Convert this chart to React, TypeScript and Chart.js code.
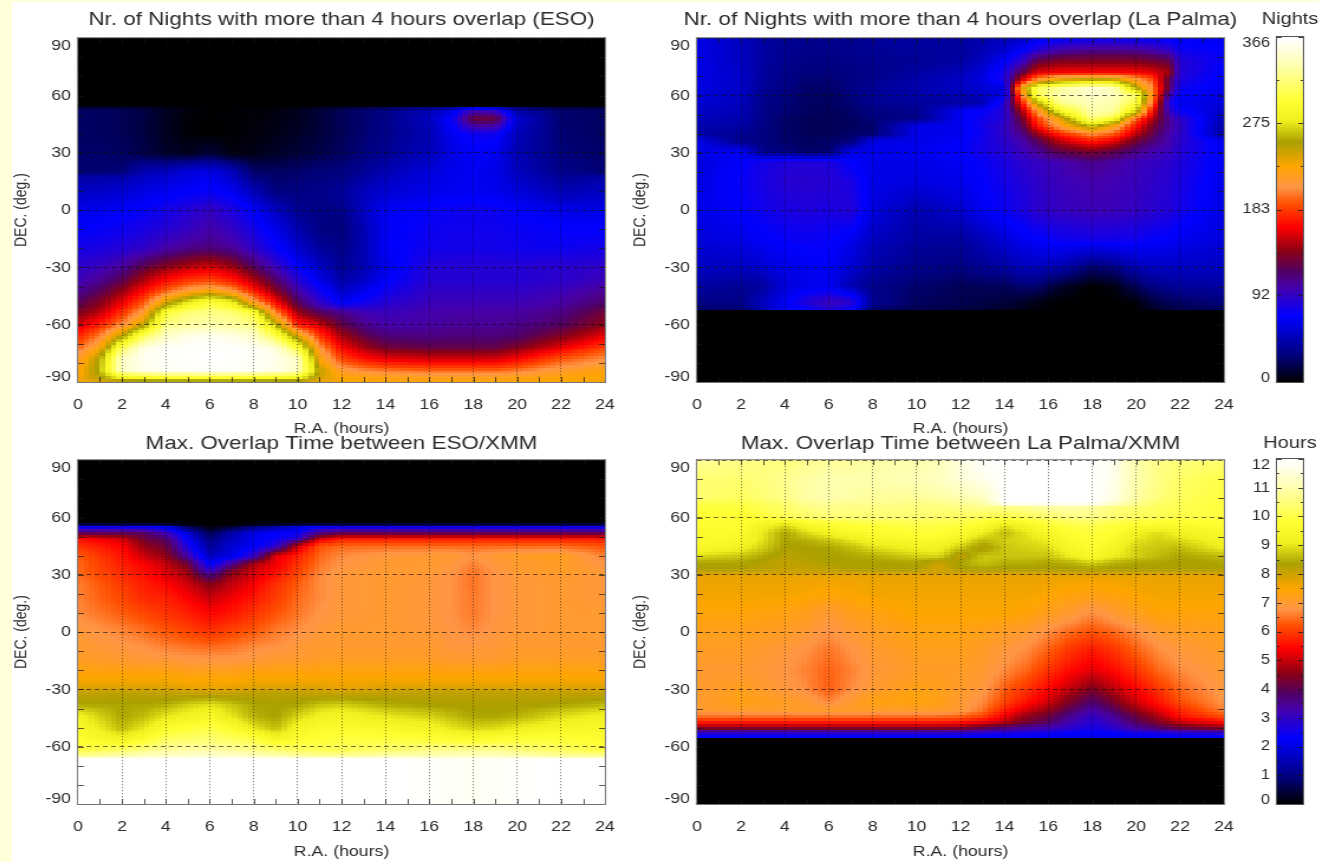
import React, { useEffect, useRef } from "react";
import { Chart, registerables } from "chart.js";

Chart.register(...registerables);

// ---------- colour table (fraction of the colour bar, r, g, b)
const tablePos = [0, 0.08, 0.19, 0.275, 0.32, 0.38, 0.45, 0.517, 0.565, 0.623, 0.696, 0.758, 0.816, 0.913, 0.99, 1];
const tableR = [0, 0, 0, 70, 80, 140, 255, 255, 255, 255, 170, 240, 255, 255, 255, 255];
const tableG = [0, 0, 0, 0, 0, 0, 0, 80, 150, 165, 160, 240, 255, 255, 255, 255];
const tableB = [0, 128, 255, 170, 100, 20, 0, 0, 70, 0, 0, 30, 50, 170, 250, 255];

// ---------- Nights, ESO
const esoNightsRa = [0,1,2,3,4,5,6,7,8,9,10,11,12,13,14,16,17,18,19,20,22,24];
const esoNightsDec = [90,54,53,48,40,30,20,18,10,0,-10,-20,-30,-36,-42,-48,-54,-60,-66,-72,-78,-84,-88,-90];
const esoNights = [
[0,0,0,0,0,0,0,0,0,0,0,0,0,0,0,0,0,0,0,0,0,0],
[0,0,0,0,0,0,0,0,0,0,0,0,0,0,0,0,0,0,0,0,0,0],
[22,22,20,16,8,3,1,1,2,3,7,13,20,25,30,45,55,90,80,38,24,22],
[22,22,20,15,7,2,0,1,2,4,7,13,20,25,32,50,72,130,130,55,25,22],
[22,22,20,15,7,2,0,1,3,5,9,13,20,26,32,45,65,75,75,48,26,22],
[24,24,22,16,10,6,14,3,5,9,13,17,22,28,35,48,60,68,65,45,28,24],
[26,26,28,45,50,58,62,50,25,22,25,28,30,36,45,58,64,66,62,50,32,26],
[40,40,42,50,54,60,64,52,28,24,26,28,30,38,48,60,64,66,63,52,35,40],
[50,52,55,60,65,68,72,65,48,28,30,32,38,48,55,62,65,66,64,58,45,50],
[62,65,68,72,78,85,92,82,68,50,35,30,32,50,66,72,74,75,74,70,62,62],
[70,72,75,80,85,92,100,92,78,62,45,30,28,45,66,74,76,76,76,74,70,70],
[78,80,84,90,100,108,112,105,90,72,55,38,32,45,68,76,78,78,78,76,75,78],
[90,95,105,125,140,150,158,145,120,95,72,52,35,45,62,85,86,86,86,86,88,90],
[95,105,120,145,165,178,182,170,145,115,85,62,42,50,68,85,85,85,85,85,88,95],
[105,118,140,165,190,210,222,205,170,135,100,75,52,62,75,90,90,90,90,90,95,105],
[120,135,160,190,240,275,300,280,215,165,120,90,65,75,85,95,96,96,96,96,102,115],
[135,150,180,215,300,320,325,320,300,205,145,120,110,98,95,100,102,102,103,103,110,130],
[155,175,205,250,325,330,335,330,325,262,175,155,125,108,100,102,105,105,105,108,118,140],
[175,200,250,310,345,355,358,355,345,305,240,180,145,125,112,110,112,112,112,115,135,160],
[195,225,310,355,362,364,365,364,362,352,300,210,165,145,130,125,125,125,125,135,160,185],
[215,255,345,360,362,364,365,364,362,358,345,228,185,170,160,155,155,155,155,165,190,205],
[225,260,345,355,360,362,362,362,360,355,345,250,215,205,200,195,195,195,195,200,215,225],
[230,250,280,290,295,295,295,295,295,290,285,240,228,225,222,220,220,220,220,222,225,230],
[232,235,235,235,235,235,235,235,235,235,235,232,230,230,228,228,228,228,228,228,230,232],
];

// ---------- Nights, La Palma
const lpNightsRa = [0,2,3,4,5,6,7,8,10,12,13,14,14.8,15.5,16.5,18,19,20,20.7,21.5,22,24];
const lpNightsDec = [90,84,78,72,68,64,60,56,52,48,44,40,36,31,25,15,0,-15,-30,-40,-48,-52,-53,-90];
const lpNights = [
[62,50,40,36,34,34,34,38,40,40,45,48,52,60,68,72,72,70,68,65,65,66],
[62,50,40,35,32,32,34,36,38,38,45,55,68,85,100,108,108,105,100,90,75,70],
[62,50,40,34,30,30,32,34,36,40,50,68,90,125,135,135,135,135,130,125,85,72],
[62,52,38,32,28,28,30,32,40,48,58,80,125,160,165,165,165,165,160,145,85,68],
[62,52,38,32,26,26,30,34,42,50,60,80,155,210,240,255,250,215,190,120,82,66],
[60,52,36,30,24,24,30,36,44,50,55,60,230,310,330,350,340,255,205,120,75,64],
[58,50,34,28,24,22,28,36,42,46,50,62,200,310,335,345,340,320,215,95,70,60],
[55,48,32,28,22,22,26,34,38,40,45,85,170,255,325,340,335,300,200,80,65,58],
[52,46,32,26,22,20,24,30,34,66,72,85,145,210,285,335,330,270,170,92,72,52],
[48,44,32,24,20,20,22,28,30,66,75,85,130,185,235,325,300,195,150,105,88,46],
[44,42,30,24,20,20,20,25,62,65,78,90,120,170,215,265,225,170,135,105,92,40],
[42,35,30,24,20,20,24,26,62,65,75,90,108,140,175,205,190,150,125,100,90,38],
[62,32,30,24,22,24,26,62,62,68,78,88,100,120,150,175,160,130,115,100,88,62],
[62,65,32,28,22,24,62,64,65,70,78,85,95,105,125,135,125,110,100,95,85,66],
[58,70,78,82,84,82,70,62,62,66,72,80,88,92,98,108,102,95,92,88,82,65],
[60,72,80,86,88,86,80,62,60,64,70,78,84,90,95,100,98,94,90,86,80,62],
[62,70,76,80,82,80,85,60,45,55,66,74,80,88,92,96,95,92,88,84,78,60],
[58,62,68,72,74,72,65,50,40,38,48,58,65,70,75,78,78,76,72,68,65,58],
[50,50,55,62,66,68,55,42,32,30,35,40,48,48,45,25,30,45,50,50,50,50],
[40,35,38,58,62,65,45,32,25,20,20,20,25,25,10,0,4,20,30,35,38,40],
[30,32,50,65,85,95,90,35,22,18,16,14,10,5,0,0,0,2,14,20,22,28],
[25,26,45,65,70,85,72,25,18,15,12,10,6,2,0,0,0,0,8,14,18,22],
[0,0,0,0,0,0,0,0,0,0,0,0,0,0,0,0,0,0,0,0,0,0],
[0,0,0,0,0,0,0,0,0,0,0,0,0,0,0,0,0,0,0,0,0,0],
];

// ---------- Hours, ESO
const esoHoursRa = [0,2,3,4,5,6,7,8,9,10,11,12,14,16,17,18,19,20,22,24];
const esoHoursDec = [90,56.5,55.5,52,49,45,40,35,32,28,24,18,10,2,-6,-14,-22,-29,-32,-38,-44,-50,-56,-62,-65,-66,-90];
const esoHours = [
[0,0,0,0,0,0,0,0,0,0,0,0,0,0,0,0,0,0,0,0],
[0,0,0,0,0,0,0,0,0,0,0,0,0,0,0,0,0,0,0,0],
[2.2,2.2,2.2,2,0.5,0,0.2,0.8,1.2,1.8,2.2,2.2,2.2,2.2,2.2,2.2,2.2,2.2,2.2,2.2],
[3.9,4,3.9,3.2,1.8,0.6,1.4,2,2.3,2.4,3.6,4,4,4,4,4,4,4,4,4],
[5.5,5,4.2,3.8,2.2,0.9,1.6,2.1,2.4,2.8,5,5.6,5.6,5.6,5.6,5.6,5.6,5.6,5.6,5.6],
[5.9,5.4,4.6,4.2,2.6,1.2,1.8,2.2,2.8,5,6.2,6.4,6.4,6.4,6.4,6.4,6.4,6.4,6.4,6.2],
[6.3,5.6,5,4.6,3.3,1.6,2,3,5.2,5.7,6.4,6.7,6.9,7,7,6.8,7,7.1,7.2,6.6],
[6.4,5.7,5.4,5,4.3,2.3,3.6,4.9,5.3,5.9,6.5,6.8,7,7,6.9,6.6,6.9,7,7.1,6.8],
[6.4,5.8,5.5,5.1,4.6,3,4.4,5,5.5,6,6.6,6.9,7,7,6.8,6.5,6.8,7,7.1,6.9],
[6.5,5.9,5.6,5.3,4.9,4,4.8,5.2,5.7,6.2,6.7,6.9,7,6.9,6.75,6.5,6.8,6.9,7,6.9],
[6.6,6,5.7,5.5,5.1,4.6,5,5.4,5.9,6.3,6.7,6.9,7,6.9,6.75,6.5,6.8,6.9,7,6.9],
[6.6,6.1,5.8,5.7,5.4,5,5.3,5.6,6,6.4,6.7,6.9,7,6.9,6.75,6.55,6.8,6.9,7,6.9],
[6.7,6.3,6.1,5.9,5.7,5.4,5.6,5.9,6.2,6.5,6.8,6.9,7,6.9,6.75,6.55,6.8,6.9,7,7],
[6.9,6.6,6.4,6.2,6,5.8,6,6.2,6.5,6.7,6.9,7,7,6.9,6.8,6.65,6.85,6.9,7,7],
[7,6.8,6.7,6.5,6.4,6.3,6.4,6.6,6.7,6.9,7,7,7,7,6.85,6.85,6.9,7,7,7],
[7.1,7,6.9,6.9,6.8,6.8,6.8,6.9,7,7,7.1,7.1,7.1,7.1,7,7,7,7.1,7.1,7.1],
[7.4,7.4,7.4,7.4,7.3,7.3,7.3,7.4,7.4,7.4,7.4,7.4,7.4,7.4,7.4,7.4,7.4,7.4,7.4,7.4],
[7.8,7.8,7.8,7.8,7.7,7.7,7.7,7.8,7.8,7.8,7.8,7.7,7.8,7.8,7.8,7.8,7.8,7.8,7.8,7.8],
[8.1,8.15,8.15,8.1,8.05,8,8.05,8.15,8.2,8.15,8.05,8,8.1,8.15,8.15,8.15,8.15,8.15,8.1,8.1],
[8.45,8.4,8.4,8.5,8.8,9,8.7,8.4,8.35,8.4,8.7,8.8,8.5,8.35,8.3,8.3,8.3,8.3,8.4,8.6],
[9.2,8.4,8.6,9,9.2,9.4,9,8.5,8.35,8.8,9.2,9.3,9,8.8,8.6,8.4,8.4,8.5,8.9,9.2],
[9.5,8.6,9,9.6,9.8,10,9.6,9,8.6,9.3,9.6,9.6,9.5,9.3,9,8.8,8.9,9.1,9.4,9.5],
[9.7,9.2,9.6,10.2,10.3,10.4,10.2,10,9.3,9.7,9.8,9.9,9.9,9.8,9.7,9.6,9.7,9.8,9.8,9.7],
[10,10.4,10.7,10.9,11,11,10.9,10.7,10.5,10.3,10.2,10.2,10.4,10.7,10.8,10.8,10.8,10.6,10.3,10],
[10.6,10.9,11.1,11.2,11.3,11.3,11.3,11.1,11,10.8,10.7,10.7,10.9,11,11.1,11.1,11.1,11,10.7,10.6],
[12,12,12,12,12,12,12,12,12,12,12,12,12,11.9,11.85,11.8,11.85,11.9,12,12],
[12,12,12,12,12,12,12,12,12,12,12,12,12,11.9,11.85,11.8,11.85,11.9,12,12],
];

// ---------- Hours, La Palma
const lpHoursRa = [0,2,4,5,6,7,8,10,11,12,13,14,15,16,17,18,19,20,21,22,24];
const lpHoursDec = [90,80,70,67,66,60,56,52,48,44,40,36,33,30.5,30,20,10,0,-10,-20,-30,-36,-41,-44,-47,-50,-52,-54,-55.5,-56,-90];
const lpHours = [
[10.8,10.6,10.5,10.7,10.8,10.8,10.9,11,11.1,11.6,11.9,11.95,11.95,11.95,11.95,11.95,11.7,11,10.6,10.5,10.4],
[10.4,10.4,10.7,10.9,11,11,11,11.1,11.2,11.5,11.7,11.95,11.95,11.95,11.95,11.95,11.7,11,10.6,10.3,10],
[10.4,10.2,10.6,10.9,11,10.9,10.8,10.8,10.9,11,11.2,11.95,11.95,11.95,11.95,11.95,11.6,10.9,10.5,10.2,9.9],
[10,10,10.4,10.7,10.8,10.7,10.7,10.6,10.6,10.7,10.9,11.9,11.9,11.9,11.9,11.9,11.4,10.7,10.3,10.1,9.9],
[9.9,9.9,10.3,10.6,10.7,10.6,10.6,10.5,10.5,10.6,10.7,10.6,10.8,11,11,10.9,10.5,10.4,10.2,10.1,9.9],
[9.8,9.7,10.1,10.3,10.4,10.4,10.4,10.4,10.3,10.2,10.1,10,10.1,10.3,10.5,10.6,10.4,10.2,10.1,10,9.9],
[9.7,9.7,8.9,9.4,9.7,9.8,9.9,10,10,9.9,9.7,9,9.4,9.8,10,10.1,9.9,9.7,9.6,9.6,9.7],
[9.6,9.6,8.4,8.9,9.2,9.5,9.6,9.8,9.8,9.6,9.1,8.6,9,9.4,9.7,9.9,9.7,9.2,8.9,9.2,9.5],
[9.6,9.5,8.4,8.5,8.7,9,9.3,9.5,9.5,9.2,8.6,8.8,8.9,9.1,9.6,9.8,9.5,9,8.8,8.9,9.3],
[9.5,9.2,8.3,8.35,8.4,8.6,8.9,9.2,9.2,8.7,8.2,8.7,8.8,8.9,9.4,9.7,9.3,8.8,8.7,8.6,9.1],
[8.9,8.7,8.2,8.3,8.35,8.4,8.5,8.8,8.9,8.1,8.7,8.7,8.7,8.7,9.1,9.5,9.1,8.8,8.6,8.4,8.6],
[8.4,8.4,8.1,8.2,8.3,8.35,8.35,8.4,8,8.4,8.7,8.5,8.5,8.4,8.5,8.8,8.5,8.4,8.4,8.3,8.4],
[8.3,8.3,8.1,8.1,8.2,8.3,8.3,8.3,7.9,8.3,8.35,8.3,8.3,8.3,8.3,8.35,8.3,8.3,8.3,8.3,8.3],
[7.9,7.9,7.9,7.9,7.9,7.9,7.9,7.9,7.9,7.9,7.9,7.9,7.9,7.9,7.9,7.9,7.9,7.9,7.9,7.9,7.9],
[7.7,7.7,7.7,7.7,7.7,7.7,7.7,7.7,7.7,7.7,7.7,7.7,7.7,7.7,7.7,7.7,7.7,7.7,7.7,7.7,7.7],
[7.6,7.6,7.6,7.5,7.45,7.5,7.6,7.6,7.6,7.6,7.6,7.6,7.6,7.5,7.4,7.3,7.4,7.5,7.6,7.6,7.6],
[7.4,7.4,7.3,7.2,6.95,7.2,7.3,7.5,7.5,7.5,7.5,7.5,7.4,7.2,7,6.7,7,7.2,7.4,7.4,7.4],
[7.2,7.2,7.1,6.95,6.75,6.95,7.1,7.3,7.3,7.3,7.2,7.1,7,6.7,6.4,6.2,6.4,6.7,7,7.1,7.2],
[7.1,7.1,6.9,6.75,6.5,6.75,7,7.2,7.2,7.2,7.1,6.9,6.7,6.3,5.9,5.6,5.9,6.3,6.7,6.9,7.1],
[7,7,6.8,6.6,6.35,6.6,6.9,7.1,7.1,7.1,7,6.7,6.4,5.9,5.5,5.2,5.5,5.9,6.4,6.7,7],
[7,7.2,6.9,6.7,6.3,6.7,7,7.3,7.2,7.1,6.9,6.3,5.9,5.4,4.9,4.4,4.9,5.4,5.9,6.4,6.9],
[7,7.3,7.1,7,6.6,7,7.3,7.4,7.3,7,6.7,6.1,5.6,5.1,4.4,3.8,4.4,5.1,5.6,6.2,6.8],
[7,7.1,7.1,7.1,7.1,7.1,7.1,7.1,7.1,7,6.5,5.7,5.1,4.6,3.9,3.3,3.9,4.6,5.2,5.8,6.6],
[6.5,6.5,6.5,6.5,6.5,6.5,6.5,6.5,6.5,6.4,6.1,5.3,4.6,4.2,3.5,3,3.5,4.2,4.8,5.6,6.2],
[5.7,5.7,5.7,5.7,5.7,5.7,5.7,5.7,5.7,5.6,5.3,4.9,4.3,3.9,3.2,2.8,3.2,3.9,4.4,5,5.5],
[4.5,4.5,4.5,4.5,4.5,4.5,4.5,4.5,4.5,4.4,4.1,3.7,3.4,3.2,2.9,2.6,2.9,3.4,3.8,4.2,4.5],
[3.4,3.4,3.4,3.4,3.4,3.4,3.4,3.4,3.4,3.4,3.2,3,2.8,2.7,2.5,2.3,2.5,2.8,3,3.2,3.4],
[2.5,2.5,2.5,2.5,2.5,2.5,2.5,2.5,2.5,2.5,2.4,2.4,2.4,2.3,2.2,2.1,2.2,2.3,2.4,2.4,2.5],
[2.1,2.1,2.1,2.1,2.1,2.1,2.1,2.1,2.1,2.1,2.1,2.1,2.1,2.1,2.1,2.1,2.1,2.1,2.1,2.1,2.1],
[0,0,0,0,0,0,0,0,0,0,0,0,0,0,0,0,0,0,0,0,0],
[0,0,0,0,0,0,0,0,0,0,0,0,0,0,0,0,0,0,0,0,0],
];

// ---------- axes
const minorRa = [1,3,5,7,9,11,13,15,17,19,21,23];
const minorDec = [80,70,50,40,20,10,-10,-20,-40,-50,-70,-80];
const nightsTicks = [0,92,183,275,366];
const nightsMinor = [46,137,229,320];
const hoursTicks = [0,1,2,3,4,5,6,7,8,9,10,11,12];
const hoursMinor = [0.5,1.5,2.5,3.5,4.5,5.5,6.5,7.5,8.5,9.5,10.5,11.5];

const FONT = "'Liberation Sans', Arial, sans-serif";
const INK = "#2b2b2b";

// The canvases are drawn narrow and widened by CSS: the original picture is stretched sideways.
const PANEL_CSS_W = 659;
const PANEL_W = 558;
const PANEL_SX = PANEL_CSS_W / PANEL_W;
const BAR_CSS_W = 120;
const BAR_W = 102;
const BAR_SX = BAR_CSS_W / BAR_W;

function colourOf(f: number): string {
  if (Number.isNaN(f)) return "#ff00ff";
  const v = Math.max(0, Math.min(1, f));
  let i = 0;
  while (i < tablePos.length - 2 && v > tablePos[i + 1]) i++;
  const t = (v - tablePos[i]) / (tablePos[i + 1] - tablePos[i]);
  const mix = (a: number[]) => Math.round(a[i] + (a[i + 1] - a[i]) * t);
  return `rgb(${mix(tableR)},${mix(tableG)},${mix(tableB)})`;
}

function locate(list: number[], value: number, descending: boolean): [number, number] {
  for (let i = 0; i < list.length - 1; i++) {
    const a = list[i];
    const b = list[i + 1];
    const inside = descending ? value <= a && value >= b : value >= a && value <= b;
    if (inside) return [i, (value - a) / (b - a)];
  }
  return [list.length - 2, 1];
}

function sample(ra: number[], dec: number[], vals: number[][], x: number, y: number): number {
  const [j, u] = locate(ra, x, false);
  const [i, t] = locate(dec, y, true);
  const top = vals[i][j] + (vals[i][j + 1] - vals[i][j]) * u;
  const bot = vals[i + 1][j] + (vals[i + 1][j + 1] - vals[i + 1][j]) * u;
  return top + (bot - top) * t;
}

type PanelSpec = {
  title: string; ra: number[]; dec: number[]; vals: number[][]; max: number;
  left: number; top: number; height: number; titleTop: number; titleBottom: number; xTitleBottom: number;
};

const panels: PanelSpec[] = [
  { title: "Nr. of Nights with more than 4 hours overlap (ESO)", ra: esoNightsRa, dec: esoNightsDec, vals: esoNights, max: 366, left: 12, top: 0, height: 440, titleTop: 8, titleBottom: 7.4, xTitleBottom: 2 },
  { title: "Nr. of Nights with more than 4 hours overlap (La Palma)", ra: lpNightsRa, dec: lpNightsDec, vals: lpNights, max: 366, left: 631, top: 0, height: 440, titleTop: 8, titleBottom: 7.4, xTitleBottom: 2 },
  { title: "Max. Overlap Time between ESO/XMM", ra: esoHoursRa, dec: esoHoursDec, vals: esoHours, max: 12, left: 12, top: 424, height: 438, titleTop: 8.2, titleBottom: 5.2, xTitleBottom: 1 },
  { title: "Max. Overlap Time between La Palma/XMM", ra: lpHoursRa, dec: lpHoursDec, vals: lpHours, max: 12, left: 631, top: 424, height: 438, titleTop: 8.2, titleBottom: 5.2, xTitleBottom: 1 },
];

const CELL_RA = 0.25;
const CELL_DEC = 1.5;

const heatPlugin = {
  id: "heat",
  beforeDatasetsDraw(chart: any) {
    const spec: PanelSpec = chart.options.plugins.heat.spec;
    if (!spec) return;
    const { ctx, scales } = chart;
    const xs = scales.x;
    const ys = scales.y;
    const nx = Math.round(24 / CELL_RA);
    const ny = Math.round(180 / CELL_DEC);
    for (let a = 0; a < nx; a++) {
      const x0 = Math.round(xs.getPixelForValue(a * CELL_RA));
      const x1 = Math.round(xs.getPixelForValue((a + 1) * CELL_RA));
      const ra = (a + 0.5) * CELL_RA;
      for (let b = 0; b < ny; b++) {
        const y0 = Math.round(ys.getPixelForValue(90 - b * CELL_DEC));
        const y1 = Math.round(ys.getPixelForValue(90 - (b + 1) * CELL_DEC));
        const dec = 90 - (b + 0.5) * CELL_DEC;
        ctx.fillStyle = colourOf(sample(spec.ra, spec.dec, spec.vals, ra, dec) / spec.max);
        ctx.fillRect(x0, y0, x1 - x0, y1 - y0);
      }
    }
  },
  afterDraw(chart: any) {
    const spec: PanelSpec = chart.options.plugins.heat.spec;
    if (!spec) return;
    const { ctx, scales, chartArea: c } = chart;
    ctx.save();
    ctx.strokeStyle = "rgba(20,20,20,0.7)";
    ctx.lineWidth = 1;
    ctx.beginPath();
    for (const v of [...minorRa, 2, 4, 6, 8, 10, 12, 14, 16, 18, 20, 22]) {
      const x = Math.round(scales.x.getPixelForValue(v)) + 0.5;
      ctx.moveTo(x, c.bottom); ctx.lineTo(x, c.bottom - 5);
      ctx.moveTo(x, c.top); ctx.lineTo(x, c.top + 5);
    }
    for (const v of [...minorDec, 60, 30, 0, -30, -60]) {
      const y = Math.round(scales.y.getPixelForValue(v)) + 0.5;
      ctx.moveTo(c.left, y); ctx.lineTo(c.left + 5, y);
      ctx.moveTo(c.right, y); ctx.lineTo(c.right - 5, y);
    }
    ctx.stroke();
    ctx.strokeStyle = "#777";
    ctx.strokeRect(c.left - 0.5, c.top - 0.5, c.right - c.left + 1, c.bottom - c.top + 1);
    ctx.fillStyle = INK;
    ctx.font = `15px ${FONT}`;
    ctx.textAlign = "right";
    ctx.textBaseline = "middle";
    ctx.fillText("90", c.left - 6, scales.y.getPixelForValue(90) + 8);
    ctx.fillText("-90", c.left - 6, scales.y.getPixelForValue(-90) - 5);
    ctx.restore();
  },
};

type BarSpec = { title: string; max: number; ticks: number[]; minor: number[]; top: number; height: number; bottomPad: number; titleTop: number; titleBottom: number };

const bars: BarSpec[] = [
  { title: "Nights", max: 366, ticks: nightsTicks, minor: nightsMinor, top: 0, height: 440, bottomPad: 58, titleTop: 9, titleBottom: 7.6 },
  { title: "Hours", max: 12, ticks: hoursTicks, minor: hoursMinor, top: 424, height: 438, bottomPad: 58, titleTop: 9, titleBottom: 5.6 },
];

const barPlugin = {
  id: "cbar",
  beforeDatasetsDraw(chart: any) {
    const spec: BarSpec = chart.options.plugins.cbar.spec;
    if (!spec) return;
    const { ctx, scales, chartArea: c } = chart;
    const levels = 345;
    for (let k = 0; k < levels; k++) {
      const y0 = Math.round(scales.y.getPixelForValue((k / levels) * spec.max));
      const y1 = Math.round(scales.y.getPixelForValue(((k + 1) / levels) * spec.max));
      ctx.fillStyle = colourOf((k + 0.5) / levels);
      ctx.fillRect(c.left, y1, c.right - c.left, y0 - y1);
    }
  },
  afterDraw(chart: any) {
    const spec: BarSpec = chart.options.plugins.cbar.spec;
    if (!spec) return;
    const { ctx, scales, chartArea: c } = chart;
    ctx.save();
    ctx.strokeStyle = "rgba(20,20,20,0.8)";
    ctx.beginPath();
    for (const v of spec.ticks) {
      const y = Math.round(scales.y.getPixelForValue(v)) + 0.5;
      ctx.moveTo(c.left, y); ctx.lineTo(c.left + 4, y);
      ctx.moveTo(c.right, y); ctx.lineTo(c.right - 4, y);
    }
    for (const v of spec.minor) {
      const y = Math.round(scales.y.getPixelForValue(v)) + 0.5;
      ctx.moveTo(c.left, y); ctx.lineTo(c.left + 2, y);
      ctx.moveTo(c.right, y); ctx.lineTo(c.right - 2, y);
    }
    ctx.stroke();
    ctx.strokeStyle = "#555";
    ctx.strokeRect(c.left - 0.5, c.top - 0.5, c.right - c.left + 1, c.bottom - c.top + 1);
    ctx.fillStyle = INK;
    ctx.font = `14px ${FONT}`;
    ctx.textAlign = "right";
    ctx.textBaseline = "middle";
    ctx.fillText(String(spec.max), c.left - 6, scales.y.getPixelForValue(spec.max) + 6);
    ctx.fillText("0", c.left - 6, scales.y.getPixelForValue(0) - 4);
    ctx.restore();
  },
};

// An empty right-hand axis keeps the plot centred under the full-width title.
function spacerAxis(width: number): any {
  return {
    type: "linear", position: "right", display: true,
    ticks: { display: false },
    grid: { display: false, drawTicks: false },
    border: { display: false },
    afterFit(s: any) { s.width = width; s.paddingTop = 0; s.paddingBottom = 0; },
  };
}

function panelConfig(spec: PanelSpec): any {
  const tickFont = { family: FONT, size: 15 };
  return {
    type: "scatter",
    plugins: [heatPlugin],
    data: {
      datasets: [{
        data: spec.dec.flatMap((d, i) => spec.ra.map((r, j) => ({ x: r, y: d, v: spec.vals[i][j] }))),
        pointRadius: 0,
        showLine: false,
      }],
    },
    options: {
      animation: false,
      responsive: false,
      events: [],
      layout: { padding: 0 },
      plugins: {
        legend: { display: false },
        tooltip: { enabled: false },
        heat: { spec },
        title: {
          display: true, text: spec.title, color: INK,
          font: { family: FONT, size: 19, weight: "normal" },
          padding: { top: spec.titleTop, bottom: spec.titleBottom },
        },
      },
      scales: {
        x: {
          type: "linear", min: 0, max: 24,
          ticks: { stepSize: 2, font: tickFont, color: INK, padding: 13.5, maxRotation: 0, autoSkip: false },
          grid: { color: "rgba(10,10,10,0.6)", z: 1, drawTicks: false, lineWidth: 1 },
          border: { display: false, dash: [1, 2] },
          title: { display: true, text: "R.A. (hours)", font: { family: FONT, size: 15 }, color: INK, padding: { top: 0, bottom: spec.xTitleBottom } },
          afterFit(s: any) { s.height = 58; s.paddingLeft = 0; s.paddingRight = 0; },
        },
        y: {
          type: "linear", min: -90, max: 90,
          ticks: {
            stepSize: 30, font: tickFont, padding: 6, autoSkip: false,
            color: (ctx: any) => (Math.abs(ctx.tick.value) === 90 ? "transparent" : INK),
          },
          grid: { color: "rgba(10,10,10,0.6)", z: 1, drawTicks: false, lineWidth: 1 },
          border: { display: false, dash: [4, 3] },
          title: { display: true, text: "DEC. (deg.)", font: { family: FONT, size: 14 }, color: INK, padding: { top: 0, bottom: 0 } },
          afterFit(s: any) { s.width = 66 / PANEL_SX; s.paddingTop = 0; s.paddingBottom = 0; },
        },
        spacer: spacerAxis(66 / PANEL_SX),
      },
    },
  };
}

function barConfig(spec: BarSpec): any {
  return {
    type: "scatter",
    plugins: [barPlugin],
    data: { datasets: [{ data: [], pointRadius: 0 }] },
    options: {
      animation: false,
      responsive: false,
      events: [],
      layout: { padding: { left: 0, right: 0, top: 0, bottom: spec.bottomPad } },
      plugins: {
        legend: { display: false },
        tooltip: { enabled: false },
        cbar: { spec },
        title: {
          display: true, text: spec.title, color: INK,
          font: { family: FONT, size: 17, weight: "normal" },
          padding: { top: spec.titleTop, bottom: spec.titleBottom },
        },
      },
      scales: {
        x: { display: false, type: "linear", min: 0, max: 1 },
        y: {
          type: "linear", min: 0, max: spec.max,
          afterBuildTicks(s: any) { s.ticks = spec.ticks.map((value) => ({ value })); },
          ticks: {
            font: { family: FONT, size: 14 }, padding: 6, autoSkip: false,
            color: (ctx: any) => (ctx.tick.value === 0 || ctx.tick.value === spec.max ? "transparent" : INK),
          },
          grid: { display: false, drawTicks: false },
          border: { display: false },
          afterFit(s: any) { s.width = 47 / BAR_SX; s.paddingTop = 0; s.paddingBottom = 0; },
        },
        spacer: spacerAxis(47 / BAR_SX),
      },
    },
  };
}

export default function App() {
  const panelRefs = useRef<(HTMLCanvasElement | null)[]>([]);
  const barRefs = useRef<(HTMLCanvasElement | null)[]>([]);

  useEffect(() => {
    document.body.style.margin = "0";
    const charts: Chart[] = [];
    panels.forEach((p, i) => {
      const c = panelRefs.current[i];
      if (c) charts.push(new Chart(c, panelConfig(p)));
    });
    bars.forEach((b, i) => {
      const c = barRefs.current[i];
      if (c) charts.push(new Chart(c, barConfig(b)));
    });
    return () => charts.forEach((c) => c.destroy());
  }, []);

  return (
    <div style={{ position: "fixed", left: 0, top: 0, width: 1319, height: 862, overflow: "hidden", background: "#ffffff" }}>
      <div style={{ position: "absolute", left: 0, top: 0, width: 1319, height: 2, background: "#ffffd9" }} />
      <div style={{ position: "absolute", left: 0, top: 0, width: 12, height: 862, background: "#ffffd9" }} />
      <div style={{ position: "absolute", inset: 0, filter: "blur(0.7px)" }}>
        {panels.map((p, i) => (
          <canvas
            key={p.title}
            ref={(el) => { panelRefs.current[i] = el; }}
            width={PANEL_W}
            height={p.height}
            style={{ position: "absolute", left: p.left, top: p.top, width: PANEL_CSS_W, height: p.height }}
          />
        ))}
        {bars.map((b, i) => (
          <canvas
            key={b.title}
            ref={(el) => { barRefs.current[i] = el; }}
            width={BAR_W}
            height={b.height}
            style={{ position: "absolute", left: 1230, top: b.top, width: BAR_CSS_W, height: b.height }}
          />
        ))}
      </div>
    </div>
  );
}
